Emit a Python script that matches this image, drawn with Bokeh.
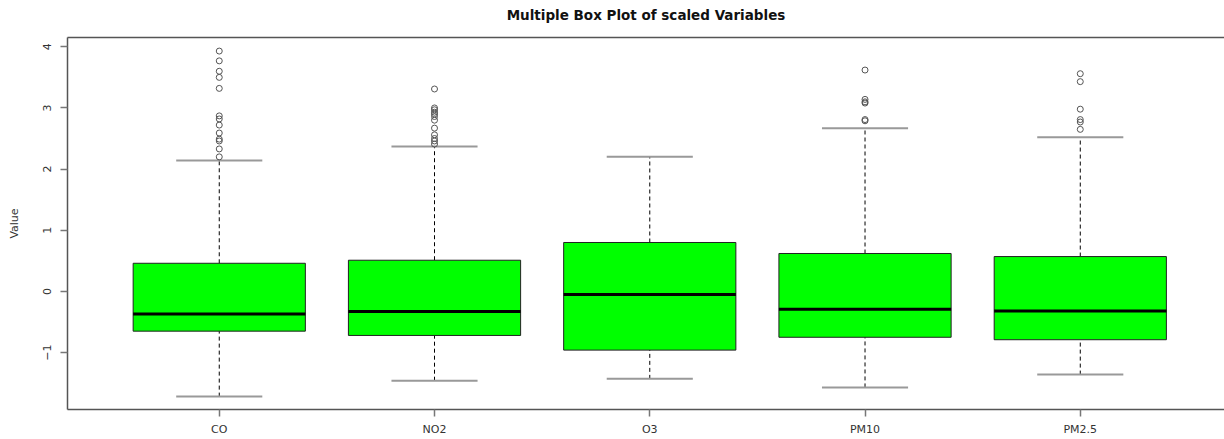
from bokeh.plotting import figure
from bokeh.models import LinearAxis, FixedTicker, Range1d, ColumnDataSource
from bokeh.embed import file_html
from bokeh.resources import INLINE

categories = ["CO", "NO2", "O3", "PM10", "PM2.5"]
q1 = [-0.65, -0.72, -0.96, -0.75, -0.79]
medians = [-0.37, -0.33, -0.05, -0.29, -0.32]
q3 = [0.46, 0.51, 0.80, 0.62, 0.57]
lower_whisker = [-1.72, -1.46, -1.43, -1.57, -1.36]
upper_whisker = [2.14, 2.37, 2.20, 2.67, 2.52]
outliers = {
    "CO": [3.93, 3.77, 3.60, 3.50, 3.32, 2.87, 2.82, 2.72, 2.59, 2.49, 2.46, 2.33, 2.20],
    "NO2": [3.31, 3.00, 2.97, 2.93, 2.90, 2.86, 2.80, 2.67, 2.56, 2.50, 2.46, 2.41],
    "O3": [],
    "PM10": [3.62, 3.14, 3.10, 3.08, 2.81, 2.79],
    "PM2.5": [3.56, 3.43, 2.98, 2.81, 2.77, 2.65],
}
y_ticks = [-1, 0, 1, 2, 3, 4]

FONT = "DejaVu Sans"
xs = list(range(1, len(categories) + 1))
box_w = 0.8
cap_w = 0.4

src = ColumnDataSource(dict(
    x=xs,
    left=[x - box_w / 2 for x in xs],
    right=[x + box_w / 2 for x in xs],
    cl=[x - cap_w / 2 for x in xs],
    cr=[x + cap_w / 2 for x in xs],
    q1=q1, q3=q3, med=medians, lw=lower_whisker, uw=upper_whisker,
))

ox, oy = [], []
for i, c in enumerate(categories):
    for v in outliers[c]:
        ox.append(xs[i])
        oy.append(v)

p = figure(width=1224, height=439, output_backend="svg", toolbar_location=None,
           x_range=Range1d(0.295, 5.67), y_range=Range1d(-1.931, 4.152),
           min_border_left=67, min_border_right=0, min_border_top=37, min_border_bottom=30,
           x_axis_location=None, y_axis_location=None)
p.background_fill_color = "white"
p.border_fill_color = "white"
p.outline_line_color = None
p.xgrid.visible = False
p.ygrid.visible = False

# whiskers
p.segment(x0="x", y0="q3", x1="x", y1="uw", source=src, line_color="black",
          line_width=1, line_dash="4 3")
p.segment(x0="x", y0="lw", x1="x", y1="q1", source=src, line_color="black",
          line_width=1, line_dash="4 3")
# caps
p.segment(x0="cl", y0="uw", x1="cr", y1="uw", source=src, line_color="#999999", line_width=2)
p.segment(x0="cl", y0="lw", x1="cr", y1="lw", source=src, line_color="#999999", line_width=2)
# boxes
p.quad(left="left", right="right", bottom="q1", top="q3", source=src,
       fill_color="#00FF00", line_color="#222222", line_width=1)
# medians
p.segment(x0="left", y0="med", x1="right", y1="med", source=src, line_color="black", line_width=3)
# outliers
p.scatter(ox, oy, marker="circle", size=6, fill_color=None, line_color="#555555", line_width=1)

# axes
yax = LinearAxis(ticker=FixedTicker(ticks=y_ticks), axis_label="Value")
yax.major_label_orientation = "parallel"
xax = LinearAxis(ticker=FixedTicker(ticks=xs),
                 major_label_overrides={x: c for x, c in zip(xs, categories)})
topax = LinearAxis(ticker=FixedTicker(ticks=[3]))
for ax in (xax, yax, topax):
    ax.axis_line_color = "#555555"
    ax.axis_line_width = 1.5
    ax.major_tick_line_color = "#777777"
    ax.major_tick_line_width = 1.5
    ax.major_tick_in = 0
    ax.major_tick_out = 7
    ax.minor_tick_line_color = None
    ax.major_label_text_font = FONT
    ax.major_label_text_font_size = "11px"
    ax.major_label_text_color = "#333333"
    ax.axis_label_text_font = FONT
    ax.axis_label_text_font_size = "11px"
    ax.axis_label_text_font_style = "normal"
    ax.axis_label_text_color = "#333333"
topax.major_label_text_font_size = "0px"
topax.major_label_text_alpha = 0
topax.major_tick_line_color = None
topax.major_tick_out = 13
topax.major_label_standoff = 0
yax.major_label_standoff = 9
yax.axis_label_standoff = 20
xax.major_label_standoff = 6
p.add_layout(yax, "left")
p.add_layout(xax, "below")
p.add_layout(topax, "above")

p.title.text = "Multiple Box Plot of scaled Variables"
p.title.align = "center"
p.title.text_font = FONT
p.title.text_font_size = "13.5px"
p.title.text_font_style = "bold"
p.title.text_color = "#111111"
p.title.standoff = 4

open("out.html", "w").write(file_html(p, INLINE))
